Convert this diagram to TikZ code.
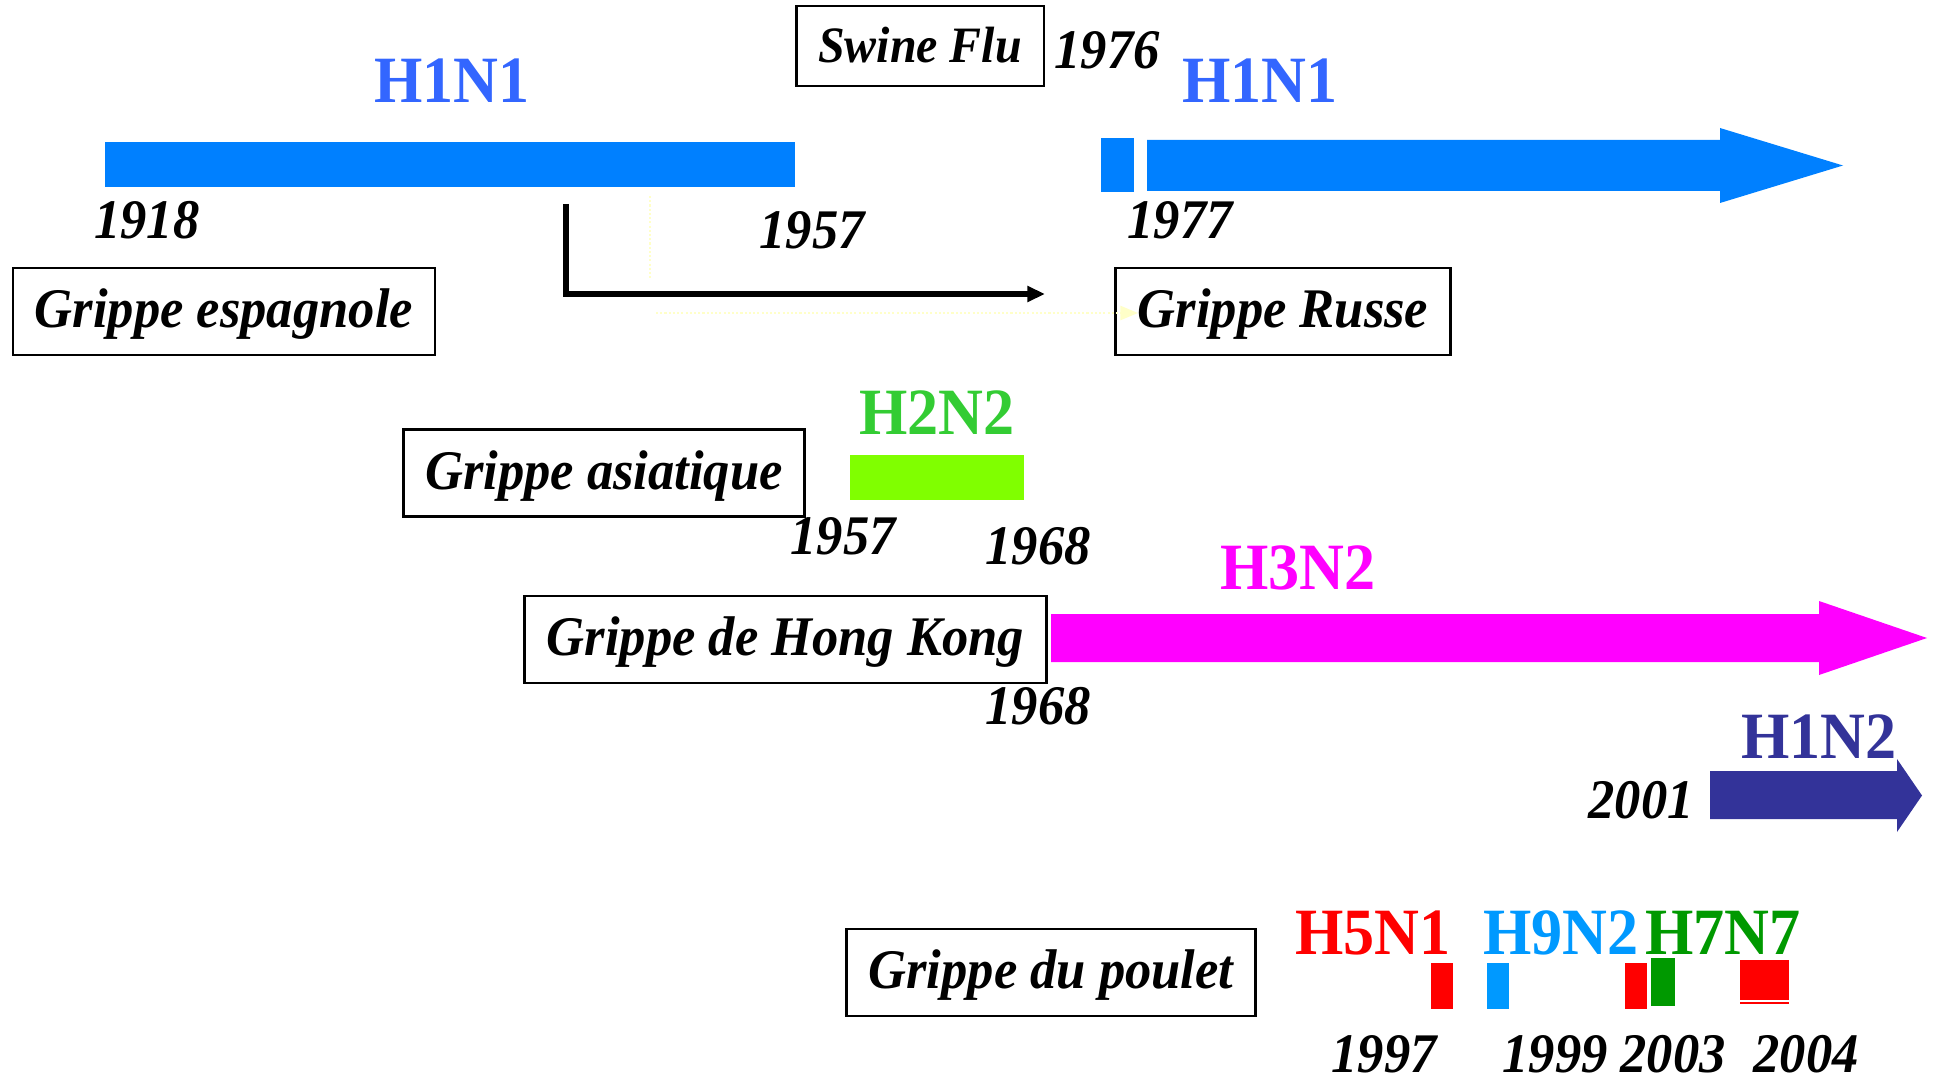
\documentclass[tikz,border=0pt]{standalone}
\usepackage{fontspec}
\setmainfont{Liberation Serif}[FakeStretch=0.94]
\usetikzlibrary{arrows.meta, positioning}
\definecolor{FluBar}{HTML}{0080FF}
\definecolor{FluHoneN}{HTML}{3366FF}
\definecolor{AsiaText}{HTML}{33CC33}
\definecolor{AsiaBar}{HTML}{80FF00}
\definecolor{HongKong}{HTML}{FF00FF}
\definecolor{FluNavy}{HTML}{333399}
\definecolor{PouletRed}{HTML}{FF0000}
\definecolor{PouletBlue}{HTML}{0099FF}
\definecolor{PouletGreen}{HTML}{009900}
\definecolor{FaintYellow}{HTML}{FFFFC8}
\tikzset{
    % Framed pandemic name
    flubox/.style={
        rectangle,
        draw=black,
        line width=0.8pt,
        inner xsep=0.22cm,
        inner ysep=0pt,
        minimum height=0.87cm,
        text height=1.2em,
        text depth=0.27em,
        font=\fontsize{15.9}{18}\selectfont\bfseries\itshape
    },
    % Year label
    yearlbl/.style={
        inner sep=0pt,
        font=\fontsize{15.9}{18}\selectfont\bfseries\itshape
    },
    % Subtype label
    subtype/.style={
        inner sep=0pt,
        font=\fontsize{18.8}{22}\selectfont\bfseries
    },
    % Black elbow arrow
    elbow/.style={
        -{Triangle[length=5pt,width=4.3pt]},
        line width=1.6pt
    },
    % Faint dotted arrow
    faint/.style={
        -{Triangle[length=5pt,width=4pt]},
        draw=FaintYellow,
        line width=0.6pt,
        dash pattern=on 0.6pt off 0.6pt
    }
}
\begin{document}
\begin{tikzpicture}[x=0.01cm, y=-0.01cm]
    \useasboundingbox (0,0) rectangle (1933,1088);

    % H1N1 1918-1957
    \fill[FluBar] (105,142) rectangle (795,187);
    \node (honenA) [subtype, text=FluHoneN] at (452,81) {H1N1};
    \node (y1918) [yearlbl] at (147,220) {1918};
    \node (y1957A) [yearlbl] at (812,230) {1957};
    \node (espagnole) [flubox] at (224,311.5) {Grippe espagnole};

    % Swine flu and H1N1 from 1977
    \node (swine) [flubox, minimum height=0.8cm, font=\fontsize{14.5}{17}\selectfont\bfseries\itshape] at (920,46) {Swine Flu};
    \node (y1976) [yearlbl] at (1107,50) {1976};
    \node (honenB) [subtype, text=FluHoneN] at (1260,81) {H1N1};
    \fill[FluBar] (1101,138) rectangle (1134,192);
    \fill[FluBar] (1147,140) -- (1720,140) -- (1720,128) -- (1843,165.5)
        -- (1720,203) -- (1720,191) -- (1147,191) -- cycle;
    \node (y1977) [yearlbl] at (1180,220) {1977};
    \node (russe) [flubox] at (1283,311.5) {Grippe Russe};

    % Connectors
    \coordinate (elbowA) at (566,204);
    \coordinate (elbowB) at (1045,294);
    \draw [elbow] (elbowA) |- (elbowB);
    \coordinate (faintA) at (650,196);
    \coordinate (faintB) at (650,278);
    \coordinate (faintC) at (656,313);
    \coordinate (faintD) at (1138,313);
    \draw [faint, -] (faintA) -- (faintB);
    \draw [faint] (faintC) -- (faintD);

    % H2N2 1957-1968
    \node (asiatique) [flubox] at (604,473) {Grippe asiatique};
    \node (htwoN) [subtype, text=AsiaText] at (937,413) {H2N2};
    \fill[AsiaBar] (850,455) rectangle (1024,500);
    \node (y1957B) [yearlbl] at (843,536) {1957};
    \node (y1968A) [yearlbl] at (1038,546) {1968};

    % H3N2 from 1968
    \node (hongkong) [flubox] at (785.5,639.5) {Grippe de Hong Kong};
    \node (hthreeN) [subtype, text=HongKong] at (1298,568) {H3N2};
    \fill[HongKong] (1051,614) -- (1819,614) -- (1819,601) -- (1927,638)
        -- (1819,675) -- (1819,662) -- (1051,662) -- cycle;
    \node (y1968B) [yearlbl] at (1038,706) {1968};

    % H1N2 from 2001
    \node (honetwo) [subtype, text=FluNavy] at (1819,737) {H1N2};
    \node (y2001) [yearlbl] at (1641,800) {2001};
    \fill[FluNavy] (1710,771) -- (1897,771) -- (1897,759) -- (1922,795.5)
        -- (1897,832) -- (1897,819) -- (1710,819) -- cycle;

    % Avian strains
    \node (poulet) [flubox] at (1051,972.5) {Grippe du poulet};
    \node (hfive) [subtype, text=PouletRed] at (1373,933) {H5N1};
    \node (hnine) [subtype, text=PouletBlue] at (1561,933) {H9N2};
    \node (hseven) [subtype, text=PouletGreen] at (1723,933) {H7N7};
    \fill[PouletRed] (1431,963) rectangle (1453,1009);
    \fill[PouletBlue] (1487,963) rectangle (1509,1009);
    \fill[PouletRed] (1625,963) rectangle (1647,1009);
    \fill[PouletGreen] (1651,958) rectangle (1675,1006);
    \fill[PouletRed] (1740,960) rectangle (1789,1000);
    \fill[PouletRed] (1740,1001.5) rectangle (1789,1004);
    \node (y1997) [yearlbl] at (1384,1054) {1997};
    \node (y1999) [yearlbl] at (1555,1054) {1999};
    \node (y2003) [yearlbl] at (1673,1054) {2003};
    \node (y2004) [yearlbl] at (1806,1054) {2004};
\end{tikzpicture}
\end{document}
